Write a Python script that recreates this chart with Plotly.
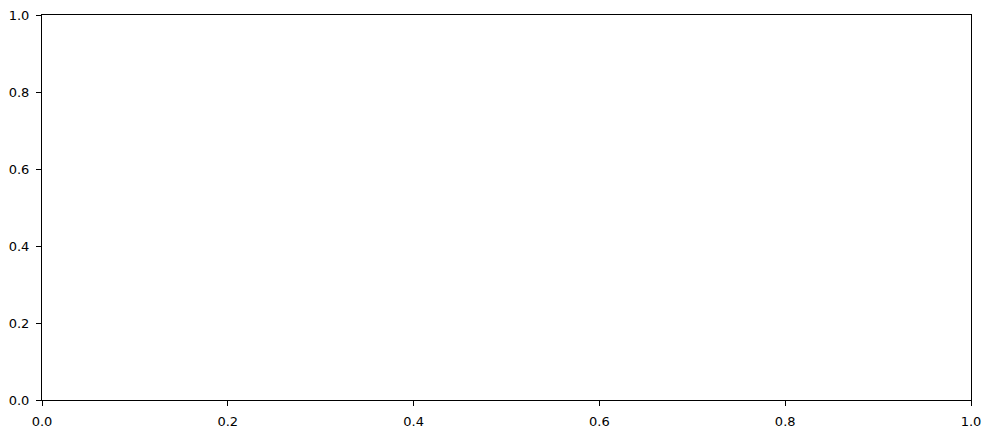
import plotly.graph_objects as go

# empty axes, both running 0..1
x_range = [0.0, 1.0]
y_range = [0.0, 1.0]
tick_vals = [0.0, 0.2, 0.4, 0.6, 0.8, 1.0]
tick_text = ['0.0', '0.2', '0.4', '0.6', '0.8', '1.0']

fig = go.Figure()
fig.add_trace(go.Scatter(x=[], y=[], mode='markers', showlegend=False))

axis_style = dict(
    showgrid=False,
    zeroline=False,
    showline=True,
    linecolor='black',
    linewidth=1,
    mirror=True,
    ticks='outside',
    ticklen=5,
    tickwidth=1,
    tickcolor='black',
    tickvals=tick_vals,
    ticktext=tick_text,
    ticklabeloverflow='allow',
    ticklabelstandoff=4,
    automargin=False,
    tickfont=dict(family='DejaVu Sans', size=13, color='black'),
)

fig.update_xaxes(range=x_range, **axis_style)
fig.update_yaxes(range=y_range, **axis_style)

# page body adds an 8px offset, so margins are shifted to compensate
fig.update_layout(
    width=992,
    height=434,
    margin=dict(l=34, r=29, t=7, b=42),
    plot_bgcolor='white',
    paper_bgcolor='white',
    showlegend=False,
)

fig.write_html("out.html")
